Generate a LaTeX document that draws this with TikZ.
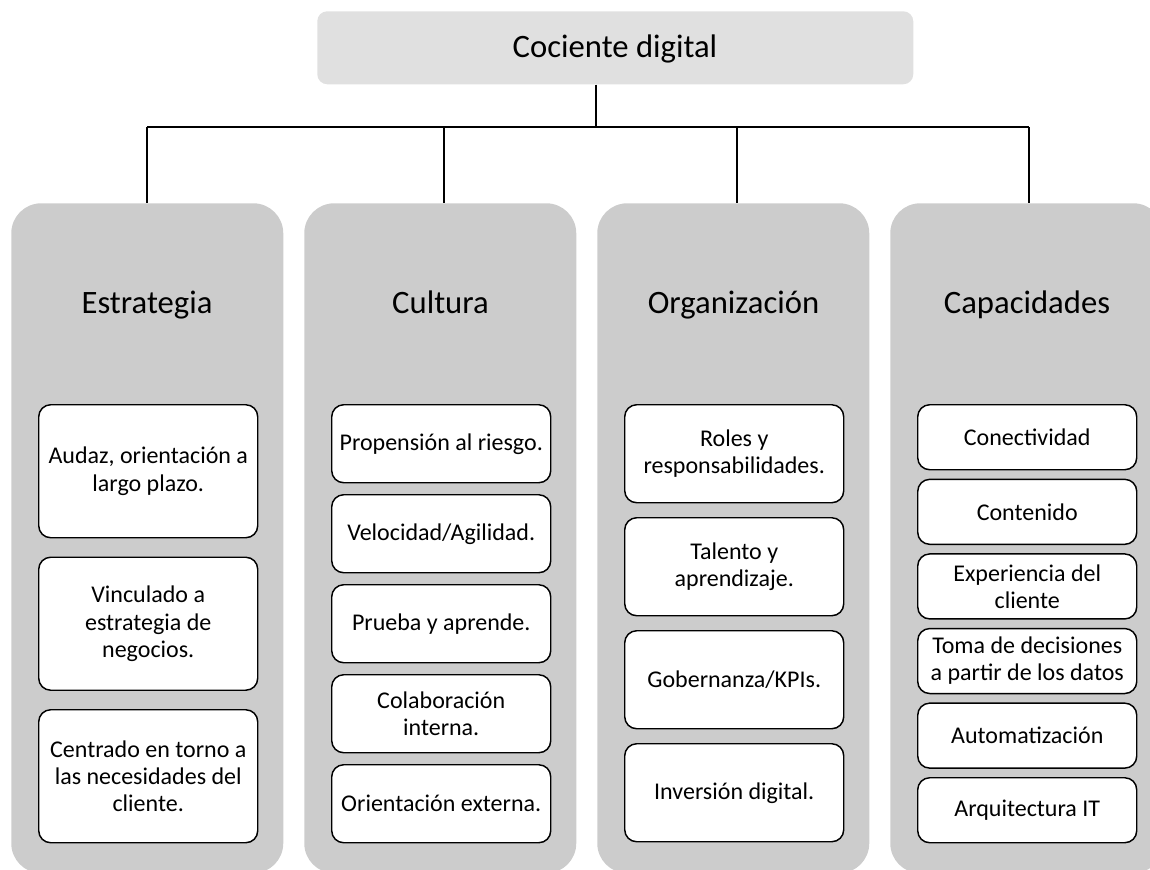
\documentclass[tikz,border=0pt]{standalone}
\usepackage{fontspec}
\setmainfont{Carlito}
\definecolor{topgray}{HTML}{E0E0E0}
\definecolor{colgray}{HTML}{CCCCCC}
\begin{document}
\begin{tikzpicture}[x=0.75pt,y=-0.75pt,
  topbox/.style={fill=topgray,rounded corners=7.5pt,minimum width=447pt,minimum height=54.75pt,anchor=north west,inner sep=0pt},
  colbox/.style={fill=colgray,rounded corners=22.5pt,minimum width=204pt,minimum height=502.5pt,anchor=north west,inner sep=0pt},
  bigtext/.style={font=\fontsize{24.5pt}{29pt}\selectfont,anchor=base,inner sep=0pt},
  item/.style={draw=black,line width=1.1pt,fill=white,rounded corners=9pt,minimum width=164.25pt,anchor=north west,align=center,inner sep=2pt,font=\fontsize{18pt}{20.3pt}\selectfont},
  itemA/.style={item,minimum height=99.75pt},
  itemB/.style={item,minimum height=58.5pt},
  itemC/.style={item,minimum height=73.5pt},
  itemD/.style={item,minimum height=48.75pt},
  conn/.style={draw=black,line width=0.8pt}]
\useasboundingbox (0,0) rectangle (1150,869);
\clip (0,0) rectangle (1150,869);
% top
\node[topbox] (top) at (317,11) {};
\node[bigtext] (toptxt) at (615,57) {Cociente digital};
% columns
\node[colbox] (c1) at (11,203) {};
\node[colbox] (c2) at (304,203) {};
\node[colbox] (c3) at (597,203) {};
\node[colbox,minimum width=204.75pt] (c4) at (890,203) {};
\node[bigtext] (t1) at (147,313) {Estrategia};
\node[bigtext] (t2) at (440.5,313) {Cultura};
\node[bigtext] (t3) at (733.5,313) {Organización};
\node[bigtext] (t4) at (1027,313) {Capacidades};
% connectors
\coordinate (stem) at (596,127);
\coordinate (d1) at (147,127);
\coordinate (d2) at (444,127);
\coordinate (d3) at (737,127);
\coordinate (d4) at (1029,127);
\draw[conn] (stem |- top.south) -- (stem);
\draw[conn] (d1) -- (d4);
\draw[conn] (d1) -- (d1 |- c1.north);
\draw[conn] (d2) -- (d2 |- c2.north);
\draw[conn] (d3) -- (d3 |- c3.north);
\draw[conn] (d4) -- (d4 |- c4.north);
% column 1
\node[itemA] (a1) at (38,404) {Audaz, orientación a\\largo plazo.};
\node[itemA] (a2) at (38,556.5) {Vinculado a\\estrategia de\\negocios.};
\node[itemA] (a3) at (38,709) {Centrado en torno a\\las necesidades del\\cliente.};
% column 2
\node[itemB] (b1) at (331,404) {Propensión al riesgo.};
\node[itemB] (b2) at (331,494) {Velocidad/Agilidad.};
\node[itemB] (b3) at (331,584) {Prueba y aprende.};
\node[itemB] (b4) at (331,674) {Colaboración\\interna.};
\node[itemB] (b5) at (331,764) {Orientación externa.};
% column 3
\node[itemC] (o1) at (624,404) {Roles y\\responsabilidades.};
\node[itemC] (o2) at (624,517) {Talento y\\aprendizaje.};
\node[itemC] (o3) at (624,630) {Gobernanza/KPIs.};
\node[itemC] (o4) at (624,743) {Inversión digital.};
% column 4
\node[itemD] (p1) at (917,404) {Conectividad};
\node[itemD] (p2) at (917,478.6) {Contenido};
\node[itemD] (p3) at (917,553.2) {Experiencia del\\cliente};
\node[itemD] (p4) at (917,627.8) {Toma de decisiones\\a partir de los datos};
\node[itemD] (p5) at (917,702.4) {Automatización};
\node[itemD] (p6) at (917,777) {Arquitectura IT};
\end{tikzpicture}
\end{document}
